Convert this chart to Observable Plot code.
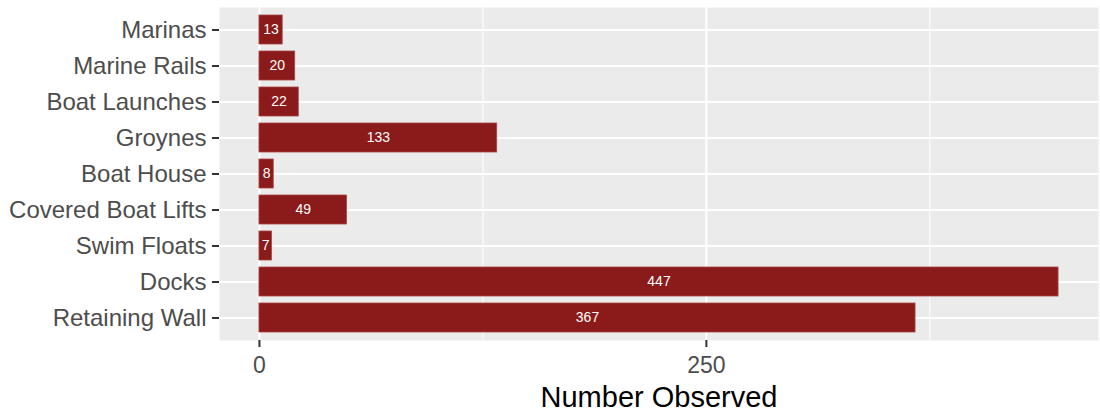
<!DOCTYPE html>
<html>
<head>
<meta charset="utf-8">
<script src="https://cdn.jsdelivr.net/npm/d3@7"></script>
<script src="https://cdn.jsdelivr.net/npm/@observablehq/plot@0.6"></script>
<style>
  html, body { margin: 0; padding: 0; background: #ffffff; }
  #chart svg { display: block; }
</style>
</head>
<body>
<div id="chart"></div>
<script>
// Categories top-to-bottom as shown
const categories = ["Marinas", "Marine Rails", "Boat Launches", "Groynes", "Boat House",
  "Covered Boat Lifts", "Swim Floats", "Docks", "Retaining Wall"];
const counts = [13, 20, 22, 133, 8, 49, 7, 447, 367];
const majorTicks = [0, 250];
const minorTicks = [125, 375];
const xTitle = "Number Observed";

const data = categories.map((c, i) => ({category: c, value: counts[i]}));
const maxVal = d3.max(counts);
const pad = maxVal * 0.05;

const chart = Plot.plot({
  width: 1100,
  height: 415,
  marginLeft: 219,
  marginRight: 2,
  marginTop: 7,
  marginBottom: 75,
  style: {fontFamily: "'Liberation Sans', Arial, sans-serif", background: "#ffffff"},
  x: {domain: [-pad, maxVal + pad]},
  y: {type: "band", domain: categories, paddingInner: 0.2, paddingOuter: 0.2, align: 0.5},
  marks: [
    Plot.frame({fill: "#EBEBEB", stroke: null}),
    Plot.ruleX(minorTicks, {stroke: "#ffffff", strokeWidth: 1}),
    Plot.ruleX(majorTicks, {stroke: "#ffffff", strokeWidth: 2}),
    Plot.tickY(categories, {y: d => d, stroke: "#ffffff", strokeWidth: 2}),
    Plot.barX(data, {x: "value", y: "category", fill: "#8B1A1A", stroke: "#A84545", strokeWidth: 0.8}),
    Plot.text(data, {x: d => d.value / 2, y: "category", text: d => String(d.value), fill: "#ffffff", fontSize: 14}),
    Plot.axisY({tickSize: 7, tickPadding: 6, fontSize: 24, stroke: "#333333", fill: "#4D4D4D", strokeWidth: 2, label: null}),
    Plot.axisX(majorTicks, {tickSize: 7, tickPadding: 9, fontSize: 23, stroke: "#333333", fill: "#4D4D4D", strokeWidth: 2, label: null, tickFormat: d => String(d)}),
    Plot.text([xTitle], {frameAnchor: "bottom", dy: 57, lineAnchor: "middle", text: d => d, fontSize: 29, fill: "#000000"})
  ]
});
document.getElementById("chart").appendChild(chart);
</script>
</body>
</html>
